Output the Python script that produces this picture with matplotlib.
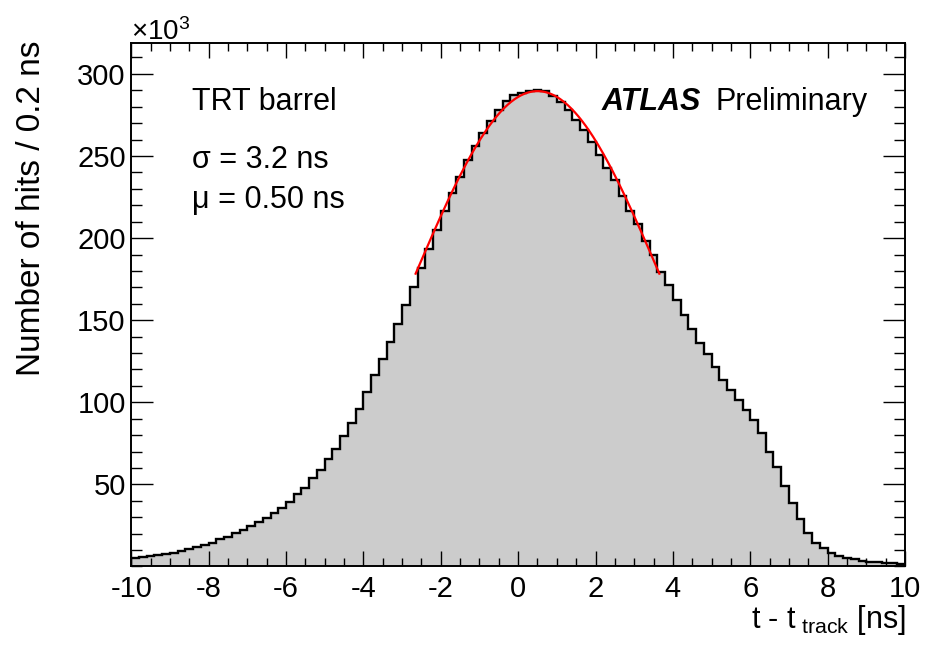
import numpy as np
import matplotlib.pyplot as plt
from matplotlib.ticker import MultipleLocator, FixedLocator

plt.rcParams['font.family'] = ['Liberation Sans', 'DejaVu Sans']
plt.rcParams['mathtext.fontset'] = 'custom'
plt.rcParams['mathtext.rm'] = 'Liberation Sans'
plt.rcParams['mathtext.it'] = 'Liberation Sans:italic'

# histogram: 100 bins of 0.2 ns from -10 to 10, counts in units of 10^3
x_lo, x_hi, n_bins = -10.0, 10.0, 100
left_tail = [5.0, 5.6, 6.2, 6.8, 7.6, 8.4, 9.4, 10.4, 11.7, 12.9,
             14.5, 16.5, 18.1, 20.2, 22.2, 24.6, 27.2, 29.7, 32.7, 35.7,
             39.4, 43.9, 47.5, 53.6, 58.7, 65.5]
rise = [71.8, 79.5, 87.6, 96.2, 106.3, 116.5, 126.6, 136.7, 147.8, 159.0,
        170.5, 181.9, 193.4, 205.0, 216.7, 227.2, 237.4, 247.5, 256.2, 264.3,
        271.4, 277.9, 283.2, 287.2]
peak = [288.6, 289.7, 290.1, 289.3, 286.7, 282.7, 278.0, 272.0, 265.9, 258.4,
        250.9, 242.8, 235.5, 225.4, 216.5, 208.8, 198.3, 189.6]
fall = [179.3, 171.5, 162.1, 153.2, 144.9, 135.9, 129.3, 121.2, 113.8, 107.7,
        101.6, 95.6, 89.1, 81.0]
right_tail = [69.8, 60.7, 48.9, 38.4, 28.7, 20.6, 14.5, 11.1, 8.4, 6.6,
              5.3, 4.4, 3.5, 2.9, 2.5, 2.1, 1.9, 1.7]
counts = np.array(left_tail + rise + peak + fall + right_tail)

# gaussian fit shown in red
fit_amp = 289.5
fit_mu = 0.50
fit_sigma = 3.2
fit_lo, fit_hi = -2.65, 3.65

edges = np.linspace(x_lo, x_hi, n_bins + 1)

fig = plt.figure(figsize=(9.27, 6.46), dpi=100)
ax = fig.add_axes([0.1416, 0.1231, 0.8347, 0.8108])

ax.stairs(counts, edges, fill=True, color='#cccccc', zorder=1)
ax.stairs(counts, edges, color='black', linewidth=1.7, zorder=2)

xf = np.linspace(fit_lo, fit_hi, 200)
yf = fit_amp * np.exp(-0.5 * ((xf - fit_mu) / fit_sigma) ** 2)
ax.plot(xf, yf, color='red', linewidth=1.6, zorder=3)

ax.set_xlim(x_lo, x_hi)
ax.set_ylim(0, 319)

ax.xaxis.set_major_locator(MultipleLocator(2))
ax.xaxis.set_minor_locator(MultipleLocator(0.5))
ax.yaxis.set_major_locator(FixedLocator([50, 100, 150, 200, 250, 300]))
ax.yaxis.set_minor_locator(MultipleLocator(10))

ax.tick_params(axis='both', which='both', direction='in', top=True, right=True,
               labelsize=21, width=1.0)
ax.tick_params(axis='x', which='major', length=11, pad=6)
ax.tick_params(axis='x', which='minor', length=5.5)
ax.tick_params(axis='y', which='major', length=16, pad=4)
ax.tick_params(axis='y', which='minor', length=8)
for s in ax.spines.values():
    s.set_linewidth(1.4)

ax.set_xticklabels([f'{int(v)}' for v in ax.get_xticks()])

# texts
fs = 22
ax.text(0.0785, 0.8716, 'TRT barrel', transform=ax.transAxes, fontsize=fs,
        va='baseline')
ax.text(0.0785, 0.7606, 'σ = 3.2 ns', transform=ax.transAxes, fontsize=fs,
        va='baseline')
ax.text(0.0785, 0.6842, 'μ = 0.50 ns', transform=ax.transAxes, fontsize=fs,
        va='baseline')
ax.text(0.608, 0.8716, 'ATLAS', transform=ax.transAxes, fontsize=fs,
        fontweight='bold', style='italic', va='baseline')
ax.text(0.952, 0.8716, 'Preliminary', transform=ax.transAxes, fontsize=fs,
        ha='right', va='baseline')

fig.text(0.141, 0.938, r'×10$^{\mathregular{3}}$', fontsize=20, va='baseline')
fig.text(0.034, 0.938, 'Number of hits / 0.2 ns', rotation=90, fontsize=24,
         ha='center', va='top')
fig.text(0.977, 0.028, r't - t$_{\mathregular{\ track}}$ [ns]', fontsize=22,
         ha='right', va='baseline')

fig.savefig('out.png', dpi=100)
